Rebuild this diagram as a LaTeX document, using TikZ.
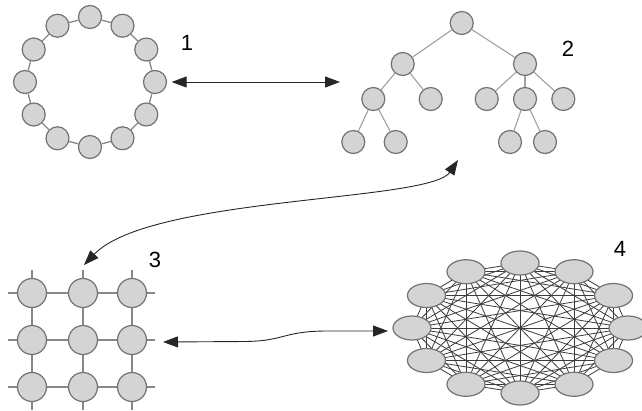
\documentclass[tikz,border=0pt]{standalone}
\usepackage{fontspec}
\setmainfont{Liberation Sans}
\usetikzlibrary{arrows.meta,backgrounds,shapes.geometric}
\definecolor{nfill}{RGB}{212,212,212}
\definecolor{nline}{RGB}{115,115,115}
\definecolor{tline}{RGB}{160,160,160}
\definecolor{gline}{RGB}{135,135,135}
\definecolor{kline}{RGB}{60,60,60}
\begin{document}
\begin{tikzpicture}[x=1pt,y=-1pt,
  vtx/.style={circle,draw=nline,fill=nfill,line width=1.2pt,inner sep=0pt,minimum size=#1},
  kv/.style={ellipse,draw=nline,fill=nfill,line width=1.2pt,inner sep=0pt,minimum width=38pt,minimum height=24pt},
  ringedge/.style={draw=gline,line width=1.3pt},
  treeedge/.style={draw=tline,line width=1.1pt},
  gridline/.style={draw=gline,line width=1.1pt},
  kedge/.style={draw=kline,line width=0.8pt},
  lbl/.style={font=\fontsize{22}{26}\selectfont,inner sep=0pt},
  arr/.style={{Triangle[length=15pt,width=11pt]}-{Triangle[length=15pt,width=11pt]},line width=0.9pt,draw=black!85}]
\useasboundingbox (0,0) rectangle (642,410);

% ---- 1: ring ----
\foreach \i in {0,...,11}
  \node[vtx=23pt] (r\i) at ({90+65*cos(90-30*\i)},{82-65*sin(90-30*\i)}) {};
\foreach \i in {0,...,11}{
  \pgfmathtruncatemacro\j{mod(\i+1,12)}
  \draw[ringedge] (r\i) -- (r\j);
}
\node[lbl] (l1) at (187,43) {1};

% ---- 2: tree ----
\node[vtx=23pt] (t0) at (461.7,23) {};
\node[vtx=23pt] (t1) at (402.7,64) {};
\node[vtx=23pt] (t2) at (525,64) {};
\node[vtx=23pt] (t3) at (373.3,99) {};
\node[vtx=23pt] (t4) at (430.7,99) {};
\node[vtx=23pt] (t5) at (486.7,99) {};
\node[vtx=23pt] (t6) at (525,99) {};
\node[vtx=23pt] (t7) at (563.3,99) {};
\node[vtx=23pt] (t8) at (353.3,142) {};
\node[vtx=23pt] (t9) at (395.7,142) {};
\node[vtx=23pt] (t10) at (510,142) {};
\node[vtx=23pt] (t11) at (545,142) {};
\foreach \a/\b in {t0/t1,t0/t2,t1/t3,t1/t4,t2/t5,t2/t6,t2/t7,t3/t8,t3/t9,t6/t10,t6/t11}
  \draw[treeedge] (\a) -- (\b);
\node[lbl] (l2) at (568,49) {2};

% ---- 3: grid ----
\foreach \c/\x in {0/32,1/83,2/132}
  \foreach \r/\y in {0/293,1/340,2/387}
    \node[vtx=29pt] (g\r\c) at (\x,\y) {};
\begin{pgfonlayer}{background}
\foreach \x in {32,83,132}
  \draw[gridline] (\x,270) -- (\x,410);
\foreach \y in {293,340,387}
  \draw[gridline] (8,\y) -- (155,\y);
\end{pgfonlayer}
\node[lbl] (l3) at (155,260) {3};

% ---- 4: complete graph ----
\foreach \i in {0,...,11}
  \node[kv] (k\i) at ({520+108*cos(90-30*\i)},{328-65*sin(90-30*\i)}) {};
\begin{pgfonlayer}{background}
\foreach \i in {0,...,10}{
  \pgfmathtruncatemacro\s{\i+1}
  \foreach \j in {\s,...,11}
    \draw[kedge] (k\i.center) -- (k\j.center);
}
\end{pgfonlayer}
\node[lbl] (l4) at (620,249) {4};

% ---- arrows ----
\coordinate (a1r) at (340,82);
\draw[arr,shorten <=4.5pt] (r3) -- (a1r);

\coordinate (a23t) at (458,160);
\coordinate (a23b) at (84,265);
\draw[arr] (a23t) .. controls (430,202) and (150,196) .. (a23b);

\coordinate (a34l) at (163,342);
\coordinate (a34r) at (388,331);
\draw[arr] (a34l) -- (245,341.5) .. controls (285,341) and (282,331.5) .. (325,331) -- (a34r);
\end{tikzpicture}
\end{document}
